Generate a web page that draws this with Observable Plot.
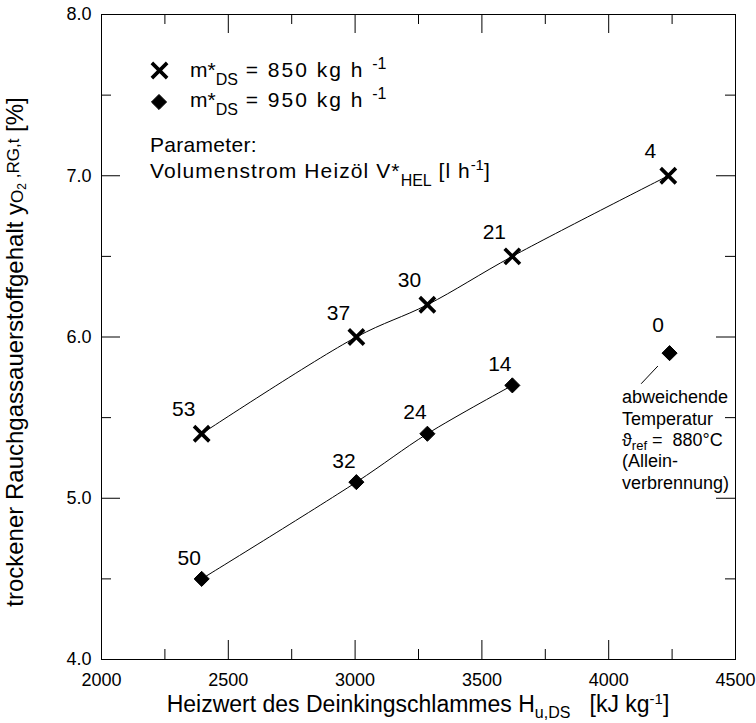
<!DOCTYPE html>
<html><head><meta charset="utf-8">
<script src="https://cdn.jsdelivr.net/npm/d3@7"></script>
<script src="https://cdn.jsdelivr.net/npm/@observablehq/plot@0.6"></script>
<style>
body{margin:0;background:#fff;}
svg{font-family:"Liberation Sans",Arial,sans-serif;}
</style></head><body><div id="chart"></div>
<script>
// Heizwert des Deinkingschlammes [kJ/kg]
const heizwert850 = [2395, 3005, 3285, 3620, 4235];
const o2_850 = [5.4, 6.0, 6.2, 6.5, 7.0];
const oil_850 = [53, 37, 30, 21, 4];
const heizwert950 = [2395, 3005, 3285, 3620];
const o2_950 = [4.5, 5.1, 5.4, 5.7];
const oil_950 = [50, 32, 24, 14];
// Alleinverbrennung (abweichende Temperatur)
const heizwertAlone = [4240];
const o2_alone = [5.9];
const oil_alone = [0];
// leader line of the annotation (data units)
const leaderX = [4194, 4128];
const leaderY = [5.82, 5.71];
// ticks
const xTicks = [2000, 2500, 3000, 3500, 4000, 4500];
const xMinor = [2250, 2750, 3250, 3750, 4250];
const yTicks = [4, 5, 6, 7, 8];
const yMinor = [4.5, 5.5, 6.5, 7.5];

const d850 = heizwert850.map((x, i) => ({x, y: o2_850[i], oil: oil_850[i]}));
const d950 = heizwert950.map((x, i) => ({x, y: o2_950[i], oil: oil_950[i]}));
const dAlone = heizwertAlone.map((x, i) => ({x, y: o2_alone[i], oil: oil_alone[i]}));
const leader = [{x1: leaderX[0], y1: leaderY[0], x2: leaderX[1], y2: leaderY[1]}];

const W = 756, H = 723, mL = 101, mR = 21, mT = 14, mB = 64;
const fw = W - mL - mR, fh = H - mT - mB;
const major = 19, minor = 10;
const FONT = '"Liberation Sans", Arial, sans-serif';

const plot = Plot.plot({
  width: W, height: H,
  marginLeft: mL, marginRight: mR, marginTop: mT, marginBottom: mB,
  style: {fontFamily: FONT, fontSize: "18px", color: "#000", background: "#fff"},
  x: {domain: [2000, 4500]},
  y: {domain: [4, 8]},
  marks: [
    Plot.axisX(xTicks, {tickSize: 0, tickPadding: 14, tickFormat: d => String(d), label: null, fontSize: 18}),
    Plot.axisY(yTicks, {tickSize: 0, tickPadding: 10, tickFormat: d => d.toFixed(1), label: null, fontSize: 18}),
    Plot.ruleX(xTicks, {insetTop: fh - major, stroke: "#000"}),
    Plot.ruleX(xMinor, {insetTop: fh - minor, stroke: "#000"}),
    Plot.ruleX(xTicks, {insetBottom: fh - major, stroke: "#000"}),
    Plot.ruleX(xMinor, {insetBottom: fh - minor, stroke: "#000"}),
    Plot.ruleY(yTicks, {insetRight: fw - major, stroke: "#000"}),
    Plot.ruleY(yMinor, {insetRight: fw - minor, stroke: "#000"}),
    Plot.ruleY(yTicks, {insetLeft: fw - major, stroke: "#000"}),
    Plot.ruleY(yMinor, {insetLeft: fw - minor, stroke: "#000"}),
    Plot.frame({stroke: "#000"}),
    Plot.line(d850, {x: "x", y: "y", curve: "catmull-rom", stroke: "#000", strokeWidth: 1}),
    Plot.line(d950, {x: "x", y: "y", curve: "catmull-rom", stroke: "#000", strokeWidth: 1}),
    Plot.link(leader, {x1: "x1", y1: "y1", x2: "x2", y2: "y2", stroke: "#000", strokeWidth: 1}),
    Plot.dot(d850, {x: "x", y: "y", symbol: "times", r: 7, stroke: "#000", strokeWidth: 3.6}),
    Plot.dot(d950, {x: "x", y: "y", symbol: "diamond2", r: 6.8, fill: "#000", stroke: "#000", strokeWidth: 1}),
    Plot.dot(dAlone, {x: "x", y: "y", symbol: "diamond2", r: 6.8, fill: "#000", stroke: "#000", strokeWidth: 1}),
    Plot.text(d850, {x: "x", y: "y", text: d => String(d.oil), dx: -18, dy: -24, fontSize: 21, fill: "#000"}),
    Plot.text(d950, {x: "x", y: "y", text: d => String(d.oil), dx: -12.5, dy: -21, fontSize: 21, fill: "#000"}),
    Plot.text(dAlone, {x: "x", y: "y", text: d => String(d.oil), dx: -11.5, dy: -27.5, fontSize: 21, fill: "#000"}),
    // legend symbols
    Plot.dot([0], {frameAnchor: "top-left", dx: 58, dy: 56, symbol: "times", r: 7, stroke: "#000", strokeWidth: 3.6}),
    Plot.dot([0], {frameAnchor: "top-left", dx: 57.5, dy: 87.5, symbol: "diamond2", r: 6.8, fill: "#000", stroke: "#000", strokeWidth: 1})
  ]
});

document.getElementById("chart").appendChild(plot);
const svg = d3.select(plot);

function rich(x, y, parts, opts = {}) {
  const size = opts.size || 20;
  const t = svg.append("text")
    .attr("x", x).attr("y", y)
    .attr("font-family", FONT)
    .attr("font-size", size)
    .attr("fill", "#000")
    .attr("text-anchor", opts.anchor || "start")
    .style("white-space", "pre");
  if (opts.rotate) t.attr("transform", `rotate(${opts.rotate},${x},${y})`);
  let cur = 0;
  for (const [s, shift = 0, sz = size, ls = opts.spacing || 0] of parts) {
    t.append("tspan").attr("dy", shift - cur).attr("font-size", sz).attr("letter-spacing", ls).text(s);
    cur = shift;
  }
  return t;
}

// axis titles
rich(418, 712, [["Heizwert des Deinkingschlammes H"], ["u,DS", 6, 16], ["   [kJ kg", 0], ["-1", -8, 15], ["]", 0]], {size: 23, anchor: "middle"});
rich(23, 352, [["trockener Rauchgassauerstoffgehalt y"], ["O", 0, 17], ["2", 3, 12], [" ,RG,t", -4, 17], [" [%]", 0, 24]], {size: 24, anchor: "middle", rotate: -90});

// legend
rich(190, 77, [["m*"], ["DS", 8, 16], [" = 850 kg h ", 0, 21, 2], ["-1", -8, 16]], {size: 21});
rich(190, 107, [["m*"], ["DS", 8, 16], [" = 950 kg h ", 0, 21, 2], ["-1", -8, 16]], {size: 21});
rich(150, 152, [["Parameter:"]], {size: 21, spacing: 0.3});
rich(150, 178, [["Volumenstrom Heizöl V*", 0, 21, 1.1], ["HEL", 8, 16], [" [l h", 0, 21, 1], ["-1", -8, 15], ["]", 0]], {size: 21});

// annotation
rich(622, 403, [["abweichende"]], {size: 18});
rich(622, 424.5, [["Temperatur"]], {size: 18});
rich(622, 445.5, [["\u03D1"], ["ref", 4, 13], [" =  880°C", 0]], {size: 18});
rich(622, 467, [["(Allein-"]], {size: 18});
rich(622, 488.5, [["verbrennung)"]], {size: 18});
</script></body></html>
